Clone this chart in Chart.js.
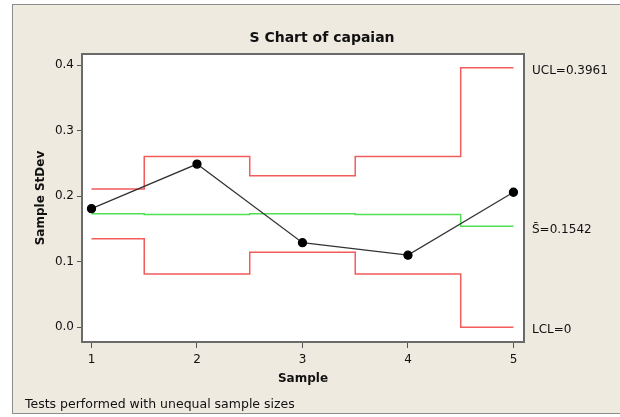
<!DOCTYPE html>
<html>
<head>
<meta charset="utf-8">
<script src="https://cdn.jsdelivr.net/npm/chart.js@4/dist/chart.umd.min.js"></script>
<style>
  html, body { margin: 0; padding: 0; background: #fff; }
  #wrap { width: 620px; height: 417px; position: relative; }
</style>
</head>
<body>
<div id="wrap"><canvas id="sChart"></canvas></div>
<script>
'use strict';

// ============================================================
// DATA
// ============================================================
const samples   = [1, 2, 3, 4, 5];
const stdevs    = [0.181, 0.249, 0.129, 0.110, 0.206];
const ucl       = [0.211, 0.2605, 0.2313, 0.2605, 0.3961];
const center    = [0.1733, 0.1720, 0.1733, 0.1720, 0.1542];
const lcl       = [0.135, 0.0812, 0.1144, 0.0812, 0];
const yTicks    = [0, 0.1, 0.2, 0.3, 0.4];
const xTicks    = [1, 2, 3, 4, 5];
const limitText = ['UCL=0.3961', 'S\u0304=0.1542', 'LCL=0'];

const FONT = '"DejaVu Sans", Tahoma, sans-serif';
const pts = arr => samples.map((s, i) => ({ x: s, y: arr[i] }));

// backgrounds, plot frame and free text (title, limit labels, footnote)
const minitabLook = {
  id: 'minitabLook',
  beforeDraw(chart) {
    const { ctx, chartArea: a } = chart;
    ctx.save();
    ctx.fillStyle = '#ffffff';
    ctx.fillRect(0, 0, chart.width, chart.height);
    ctx.fillStyle = '#eeeae0';
    ctx.fillRect(12, 4, chart.width - 12, 410);
    ctx.strokeStyle = '#8c8c8c';
    ctx.lineWidth = 1;
    ctx.strokeRect(12.5, 4.5, chart.width, 409);
    ctx.fillStyle = '#ffffff';
    ctx.fillRect(a.left, a.top, a.right - a.left, a.bottom - a.top);
    ctx.restore();
  },
  afterDraw(chart) {
    const { ctx, chartArea: a } = chart;
    const y = chart.scales.y;
    ctx.save();
    ctx.strokeStyle = '#6a6a6a';
    ctx.lineWidth = 2;
    ctx.strokeRect(a.left, a.top, a.right - a.left, a.bottom - a.top);

    ctx.fillStyle = '#111';
    ctx.font = 'bold 14px ' + FONT;
    ctx.textAlign = 'center';
    ctx.textBaseline = 'middle';
    ctx.fillText('S Chart of capaian', 322, 38);

    ctx.font = '12px ' + FONT;
    ctx.textAlign = 'left';
    ctx.fillText(limitText[0], a.right + 8, y.getPixelForValue(ucl[4]) + 3);
    ctx.fillText(limitText[1], a.right + 8, y.getPixelForValue(center[4]) + 4);
    ctx.fillText(limitText[2], a.right + 8, y.getPixelForValue(lcl[4]) + 3);

    ctx.font = '12.5px ' + FONT;
    ctx.fillText('Tests performed with unequal sample sizes', 25, 405);
    ctx.restore();
  }
};

const stepLine = (label, data, color) => ({
  label, data: pts(data), borderColor: color, borderWidth: 1.5,
  stepped: 'middle', pointRadius: 0, fill: false, order: 2
});

new Chart(document.getElementById('sChart').getContext('2d'), {
  type: 'line',
  data: {
    datasets: [
      { label: 'StDev', data: pts(stdevs), borderColor: '#333', borderWidth: 1.3,
        pointRadius: 4, pointBackgroundColor: '#000', pointBorderColor: '#000', order: 1 },
      stepLine('UCL', ucl, '#f45b5b'),
      stepLine('Center', center, '#4fe04f'),
      stepLine('LCL', lcl, '#f45b5b')
    ]
  },
  options: {
    responsive: true, maintainAspectRatio: false, animation: false,
    layout: { padding: { top: 54, right: 96, bottom: 28, left: 0 } },
    plugins: { legend: { display: false }, tooltip: { enabled: false }, title: { display: false } },
    scales: {
      x: {
        type: 'linear', min: 0.91, max: 5.1,
        afterFit: s => { s.height = 47; },
        afterBuildTicks: s => { s.ticks = xTicks.map(v => ({ value: v })); },
        grid: { drawOnChartArea: false, drawTicks: true, tickLength: 6, color: '#555' },
        border: { display: false },
        ticks: { color: '#111', font: { family: FONT, size: 12 }, padding: 5, callback: v => String(v) },
        title: { display: true, text: 'Sample', color: '#111', font: { family: FONT, size: 12, weight: 'bold' }, padding: { top: 0, bottom: 3 } }
      },
      y: {
        min: -0.0225, max: 0.417,
        afterFit: s => { s.width = 82; },
        afterBuildTicks: s => { s.ticks = yTicks.map(v => ({ value: v })); },
        grid: { drawOnChartArea: false, drawTicks: true, tickLength: 5, color: '#555' },
        border: { display: false },
        ticks: { color: '#111', font: { family: FONT, size: 12 }, padding: 3, callback: v => v.toFixed(1) },
        title: { display: true, text: 'Sample StDev', color: '#111', font: { family: FONT, size: 12, weight: 'bold' }, padding: { top: 34, bottom: 0 } }
      }
    }
  },
  plugins: [minitabLook]
});
</script>
</body>
</html>
